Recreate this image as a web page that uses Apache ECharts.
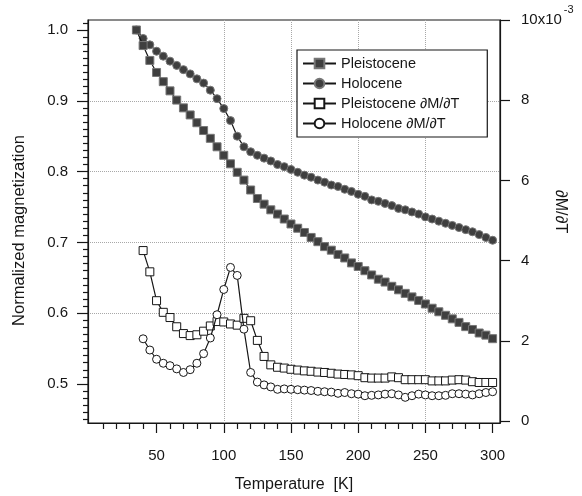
<!DOCTYPE html>
<html><head><meta charset="utf-8">
<script src="https://cdn.jsdelivr.net/npm/echarts@6/dist/echarts.min.js"></script>
<style>html,body{margin:0;padding:0;background:#fff}#c{width:582px;height:496px}</style>
</head><body><div id="c"></div>
<script>
// Temperatures (K) of the magnetization measurements
const magT = [35,40,45,50,55,60,65,70,75,80,85,90,95,100,105,110,115,120,125,130,
  135,140,145,150,155,160,165,170,175,180,185,190,195,200,205,210,215,220,225,230,
  235,240,245,250,255,260,265,270,275,280,285,290,295,300];
// Normalized magnetization (left axis)
const pleistoceneM = [1.0,0.978,0.957,0.940,0.927,0.914,0.901,0.890,0.880,0.869,
  0.858,0.847,0.835,0.823,0.811,0.799,0.788,0.774,0.762,0.754,
  0.746,0.740,0.733,0.726,0.720,0.714,0.707,0.701,0.694,0.689,
  0.683,0.678,0.671,0.666,0.660,0.654,0.648,0.644,0.638,0.633,
  0.628,0.623,0.618,0.613,0.607,0.602,0.597,0.592,0.587,0.581,
  0.577,0.572,0.569,0.564];
const holoceneM = [1.0,0.988,0.979,0.970,0.963,0.956,0.950,0.944,0.938,0.931,
  0.925,0.915,0.903,0.889,0.872,0.850,0.835,0.828,0.823,0.819,
  0.815,0.810,0.807,0.803,0.799,0.795,0.792,0.788,0.785,0.781,
  0.779,0.775,0.772,0.768,0.765,0.760,0.758,0.755,0.752,0.748,
  0.746,0.743,0.740,0.736,0.733,0.730,0.727,0.724,0.721,0.718,
  0.715,0.711,0.707,0.703];
// Temperatures (K) of the derivative points
const derivT = [40,45,50,55,60,65,70,75,80,85,90,95,100,105,110,115,120,125,130,135,
  140,145,150,155,160,165,170,175,180,185,190,195,200,205,210,215,220,225,230,235,
  240,245,250,255,260,265,270,275,280,285,290,295,300];
// dM/dT in units of 10^-3 (right axis)
const pleistoceneD = [4.25,3.72,3.00,2.71,2.58,2.35,2.18,2.13,2.15,2.24,
  2.37,2.48,2.47,2.42,2.39,2.56,2.50,2.01,1.61,1.40,
  1.34,1.32,1.29,1.27,1.25,1.24,1.22,1.21,1.19,1.17,
  1.16,1.15,1.13,1.08,1.07,1.07,1.07,1.10,1.08,1.03,
  1.03,1.03,1.03,1.00,1.00,1.00,1.02,1.03,1.02,0.98,
  0.96,0.96,0.96];
const holoceneD = [2.05,1.77,1.54,1.44,1.38,1.30,1.21,1.28,1.44,1.68,
  2.07,2.65,3.28,3.83,3.63,2.29,1.21,0.97,0.90,0.85,
  0.79,0.80,0.79,0.78,0.77,0.76,0.74,0.73,0.72,0.69,
  0.71,0.68,0.67,0.63,0.64,0.65,0.67,0.68,0.65,0.59,
  0.63,0.67,0.65,0.63,0.63,0.64,0.68,0.68,0.67,0.65,
  0.68,0.71,0.73];
const xTicks = [50,100,150,200,250,300];
const leftTicks = [0.5,0.6,0.7,0.8,0.9,1.0];
const rightTicks = [0,2,4,6,8,10];
const seriesNames = ['Pleistocene','Holocene','Pleistocene \u2202M/\u2202T','Holocene \u2202M/\u2202T'];

const FONT = "'Liberation Sans', Arial, Helvetica, sans-serif";
const INK = '#161616';
const zip = (xs, ys) => xs.map((x, i) => [x, ys[i]]);
const isMult = (v, step) => Math.abs(v / step - Math.round(v / step)) < 1e-6;

const lineStyle = { color: INK, width: 1.2 };
const filled = { color: '#3f3f3f', borderColor: '#777', borderWidth: 1 };
const open = { color: '#ffffff', borderColor: INK, borderWidth: 1 };

const chart = echarts.init(document.getElementById('c'), null, { renderer: 'canvas' });
chart.setOption({
  animation: false,
  backgroundColor: '#ffffff',
  textStyle: { fontFamily: FONT },
  grid: { left: 88, right: 82, top: 20, bottom: 73, containLabel: false, outerBoundsMode: 'none',
    show: true, borderColor: INK, borderWidth: 1.2, backgroundColor: 'transparent' },
  legend: {
    data: seriesNames, orient: 'vertical', left: 297, top: 50,
    itemWidth: 33, itemHeight: 12, itemGap: 5,
    padding: [6, 28, 6, 5], borderColor: INK, borderWidth: 1.2, backgroundColor: '#fff',
    textStyle: { fontSize: 14.5, color: INK, fontFamily: FONT }
  },
  xAxis: {
    type: 'value', min: -1, max: 305.5, splitNumber: 6,
    name: 'Temperature  [K]', nameLocation: 'middle', nameGap: 54, nameMoveOverlap: false,
    nameTextStyle: { fontSize: 16, color: INK, fontFamily: FONT },
    axisLine: { show: true, onZero: false, lineStyle: { color: INK, width: 1.2 } },
    axisTick: { show: true, length: 10, customValues: xTicks, lineStyle: { color: INK, width: 1.2 } },
    minorTick: { show: true, splitNumber: 5, length: 6, lineStyle: { color: INK, width: 1.2 } },
    axisLabel: { customValues: xTicks, margin: 25, fontSize: 15, color: INK, fontFamily: FONT,
      formatter: v => isMult(v, 50) && v > 0 ? String(v) : '' },
    splitLine: { show: true, showMinLine: false, showMaxLine: false, lineStyle: { type: 'dotted', color: '#a8a8a8', width: 1 } }
  },
  yAxis: [{
    type: 'value', position: 'left', min: 0.4449, max: 1.0141, splitNumber: 5,
    name: 'Normalized magnetization', nameLocation: 'middle', nameGap: 60, nameMoveOverlap: false,
    nameTextStyle: { fontSize: 16.5, color: INK, fontFamily: FONT, padding: [0, 18, 0, 0] },
    axisLine: { show: true, onZero: false, lineStyle: { color: INK, width: 1.2 } },
    axisTick: { show: true, length: 11, customValues: leftTicks, lineStyle: { color: INK, width: 1.2 } },
    minorTick: { show: true, splitNumber: 10, length: 5, lineStyle: { color: INK, width: 1.2 } },
    axisLabel: { customValues: leftTicks, margin: 20, fontSize: 15, color: INK, fontFamily: FONT,
      formatter: v => isMult(v, 0.1) ? v.toFixed(1) : '' },
    splitLine: { show: true, showMinLine: false, showMaxLine: false, lineStyle: { type: 'dotted', color: '#a8a8a8', width: 1 } }
  }, {
    type: 'value', position: 'right', min: -0.05, max: 10, splitNumber: 5,
    name: '\u2202M/\u2202T', nameLocation: 'middle', nameGap: 52, nameRotate: -90, nameMoveOverlap: false,
    nameTextStyle: { fontSize: 16, color: INK, fontFamily: FONT, padding: [0, 20, 0, 0] },
    axisLine: { show: true, onZero: false, lineStyle: { color: INK, width: 1.2 } },
    axisTick: { show: true, length: 10, customValues: rightTicks, lineStyle: { color: INK, width: 1.2 } },
    minorTick: { show: false },
    axisLabel: { customValues: rightTicks, margin: 21, fontSize: 15, color: INK, fontFamily: FONT,
      formatter: v => {
        if (Math.abs(v - 10) < 1e-6) return '{a|10x10}{s|-3}';
        return isMult(v, 2) && v >= 0 ? String(Math.round(v)) : '';
      },
      rich: {
        a: { fontSize: 15, lineHeight: 15, padding: [12, 0, 12, 0], color: INK, fontFamily: FONT },
        s: { fontSize: 11, lineHeight: 12, padding: [3, 0, 24, 2], color: INK, fontFamily: FONT }
      }
    },
    splitLine: { show: false }
  }],
  series: [
    { name: seriesNames[0], type: 'line', yAxisIndex: 0, data: zip(magT, pleistoceneM),
      symbol: 'rect', symbolSize: 8, showAllSymbol: true, lineStyle, itemStyle: filled, z: 4 },
    { name: seriesNames[1], type: 'line', yAxisIndex: 0, data: zip(magT, holoceneM),
      symbol: 'circle', symbolSize: 8, showAllSymbol: true, lineStyle, itemStyle: filled, z: 3 },
    { name: seriesNames[2], type: 'line', yAxisIndex: 1, data: zip(derivT, pleistoceneD),
      symbol: 'rect', symbolSize: 8, showAllSymbol: true, lineStyle, itemStyle: open, z: 3 },
    { name: seriesNames[3], type: 'line', yAxisIndex: 1, data: zip(derivT, holoceneD),
      symbol: 'circle', symbolSize: 8, showAllSymbol: true, lineStyle, itemStyle: open, z: 4 }
  ]
});
</script></body></html>
